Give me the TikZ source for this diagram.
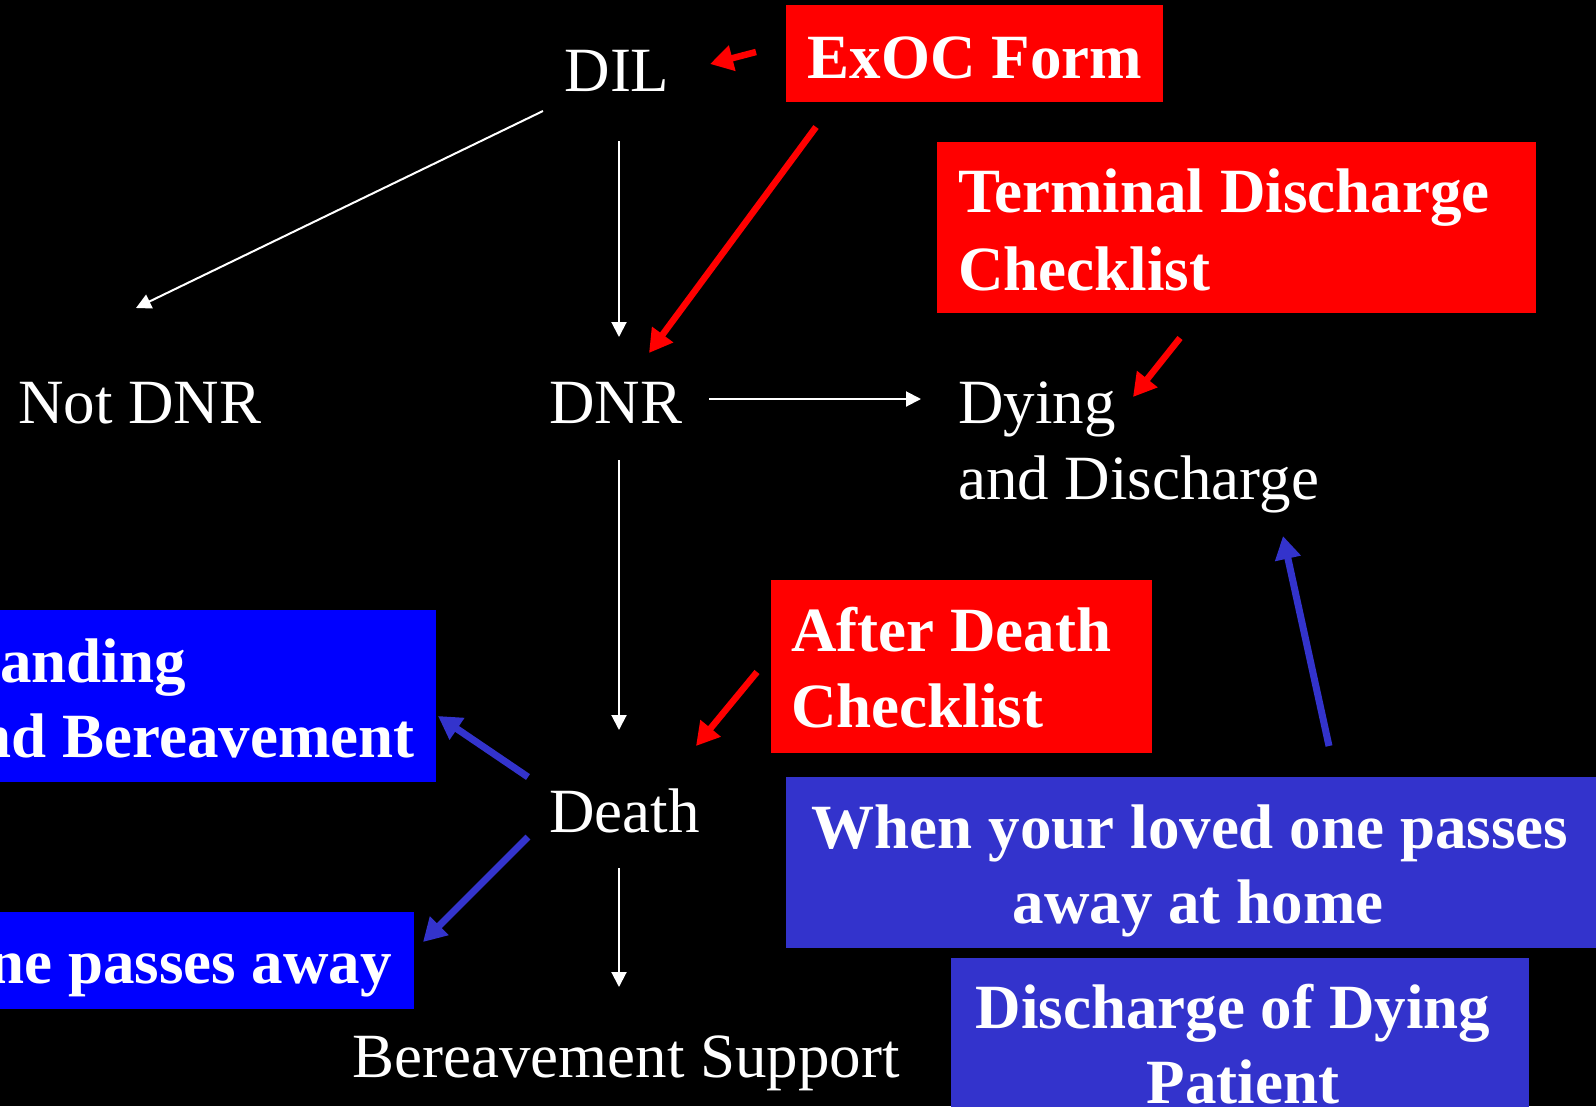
\documentclass[tikz,border=0pt]{standalone}
\usepackage{fontspec}
\setmainfont{Liberation Serif}
\usetikzlibrary{arrows.meta}
\definecolor{boxblue}{RGB}{0,0,255}
\definecolor{slateblue}{RGB}{51,51,204}
\tikzset{
  plaintxt/.style={text=white, inner sep=0pt, font=\fontsize{63}{75}\selectfont},
  boldtxt/.style={text=white, inner sep=0pt, font=\fontsize{63}{75}\selectfont\bfseries},
  panel/.style={inner sep=0pt, outer sep=0pt, draw=none, anchor=north west},
  warrow/.style={draw=white, line width=2pt, -{Triangle[length=15pt,width=15pt]}},
  rarrow/.style={draw=red, line width=6.5pt, -{Triangle[length=23pt,width=25pt]}},
  barrow/.style={draw=slateblue, line width=7pt, -{Triangle[length=23pt,width=25pt]}},
}
\begin{document}
\begin{tikzpicture}[x=1pt,y=-1pt]
\useasboundingbox (0,0) rectangle (1596,1106);
\fill[black] (0,0) rectangle (1596,1106);
\clip (0,0) rectangle (1596,1106);

% panels
\node[panel, fill=red, minimum width=377pt, minimum height=97pt] (exocbox) at (786,5) {};
\node[panel, fill=red, minimum width=599pt, minimum height=171pt] (tdcbox) at (937,142) {};
\node[panel, fill=red, minimum width=381pt, minimum height=173pt] (adcbox) at (771,580) {};
\node[panel, fill=boxblue, minimum width=446pt, minimum height=172pt] (griefbox) at (-10,610) {};
\node[panel, fill=boxblue, minimum width=424pt, minimum height=97pt] (awaybox) at (-10,912) {};
\node[panel, fill=slateblue, minimum width=820pt, minimum height=171pt] (homebox) at (786,777) {};
\node[panel, fill=slateblue, minimum width=578pt, minimum height=160pt] (dodpbox) at (951,958) {};

% box texts
\node[boldtxt, anchor=base] (exoc) at (975,78) {ExOC Form};
\node[boldtxt, anchor=base west] (tdc1) at (958,212) {Terminal Discharge};
\node[boldtxt, anchor=base west] (tdc2) at (958,290) {Checklist};
\node[boldtxt, anchor=base west] (adc1) at (791,651) {After Death};
\node[boldtxt, anchor=base west] (adc2) at (791,727) {Checklist};
\node[boldtxt, anchor=base east] (grief1) at (186,682) {anding};
\node[boldtxt, anchor=base east] (grief2) at (415,757) {nd Bereavement};
\node[boldtxt, anchor=base east] (away) at (392,983) {ne passes away};
\node[boldtxt, anchor=base] (home1) at (1190,848) {When your loved one passes};
\node[boldtxt, anchor=base] (home2) at (1198,923) {away at home};
\node[boldtxt, anchor=base] (dodp1) at (1233,1028) {Discharge of Dying};
\node[boldtxt, anchor=base] (dodp2) at (1243,1103) {Patient};

% plain labels
\node[plaintxt, anchor=base] (dil) at (617,91) {DIL};
\node[plaintxt, anchor=base west] (notdnr) at (18,423) {Not DNR};
\node[plaintxt, anchor=base west] (dnr) at (549,423) {DNR};
\node[plaintxt, anchor=base west] (dying1) at (958,423) {Dying};
\node[plaintxt, anchor=base west] (dying2) at (958,499) {and Discharge};
\node[plaintxt, anchor=base west] (death) at (549,832) {Death};
\node[plaintxt, anchor=base west] (bs) at (352,1077) {Bereavement Support};

% connector end points
\coordinate (exocA) at (756,52);   \coordinate (dilE) at (710,64);
\coordinate (exocB) at (816,127);  \coordinate (dnrNE) at (649,353);
\coordinate (dilSW) at (543,111);  \coordinate (notdnrN) at (136,308);
\coordinate (dilS) at (619,141);   \coordinate (dnrN) at (619,337);
\coordinate (tdcS) at (1180,338);  \coordinate (dyingNE) at (1133,397);
\coordinate (dnrE) at (709,399);   \coordinate (dyingW) at (921,399);
\coordinate (dnrS) at (619,460);   \coordinate (deathN) at (619,730);
\coordinate (adcW) at (757,672);   \coordinate (deathNE) at (696,746);
\coordinate (deathW1) at (528,777); \coordinate (griefE) at (438,716);
\coordinate (deathW2) at (528,837); \coordinate (awayE) at (423,942);
\coordinate (deathS) at (619,868); \coordinate (bsN) at (619,987);
\coordinate (homeN) at (1329,746); \coordinate (dyingS) at (1283,536);

% connectors
\draw[rarrow] (exocA) -- (dilE);
\draw[rarrow] (exocB) -- (dnrNE);
\draw[warrow] (dilSW) -- (notdnrN);
\draw[warrow] (dilS) -- (dnrN);
\draw[rarrow] (tdcS) -- (dyingNE);
\draw[warrow] (dnrE) -- (dyingW);
\draw[warrow] (dnrS) -- (deathN);
\draw[rarrow] (adcW) -- (deathNE);
\draw[barrow] (deathW1) -- (griefE);
\draw[barrow] (deathW2) -- (awayE);
\draw[warrow] (deathS) -- (bsN);
\draw[barrow] (homeN) -- (dyingS);
\end{tikzpicture}
\end{document}
